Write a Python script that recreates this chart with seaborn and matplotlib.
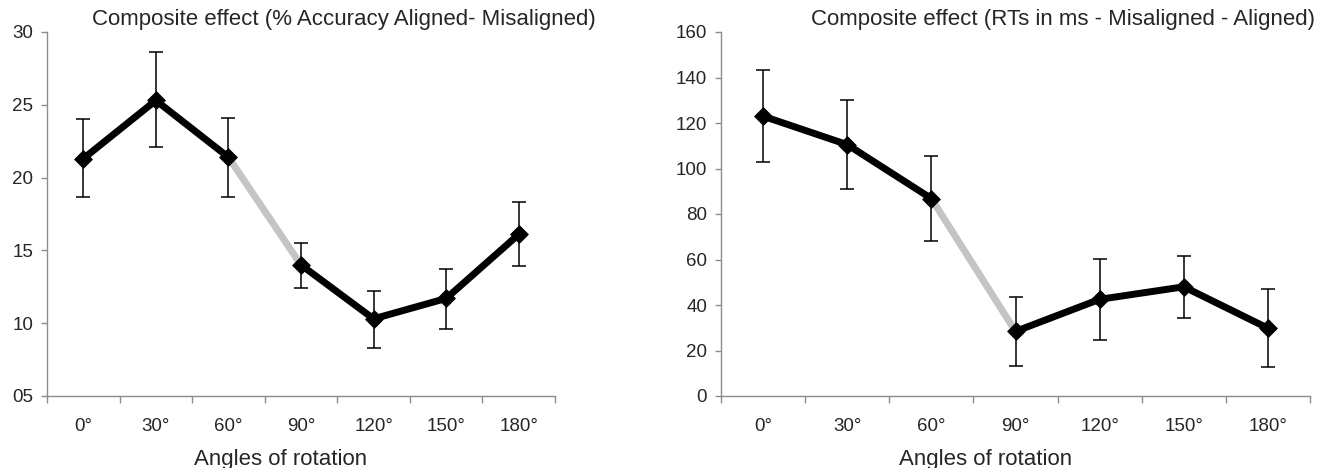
import numpy as np
import matplotlib
matplotlib.use("Agg")
import matplotlib.pyplot as plt
import seaborn as sns

# Data
angles = ["0°", "30°", "60°", "90°", "120°", "150°", "180°"]

acc_mean = [21.3, 25.3, 21.4, 14.0, 10.3, 11.7, 16.1]
acc_low = [18.7, 22.1, 18.7, 12.4, 8.3, 9.6, 13.9]
acc_high = [24.0, 28.6, 24.1, 15.5, 12.2, 13.7, 18.3]

rt_mean = [123.0, 110.5, 86.8, 28.4, 42.5, 48.0, 29.8]
rt_low = [102.7, 91.2, 68.1, 13.4, 24.8, 34.2, 12.8]
rt_high = [143.4, 130.1, 105.7, 43.7, 60.2, 61.5, 47.2]

acc_ticks = [5, 10, 15, 20, 25, 30]
acc_ticklabels = ["05", "10", "15", "20", "25", "30"]
rt_ticks = [0, 20, 40, 60, 80, 100, 120, 140, 160]

sns.set_style("white")
plt.rcParams["font.family"] = ["Liberation Sans", "DejaVu Sans"]

fig = plt.figure(figsize=(13.27, 4.68), dpi=100)
W, H = 1327, 468
ax1 = fig.add_axes([47 / W, 1 - 396 / H, (555 - 47) / W, (396 - 32) / H])
ax2 = fig.add_axes([721 / W, 1 - 396 / H, (1310 - 721) / W, (396 - 32) / H])

spine_col = "#8c8c8c"


def draw_panel(ax, mean, low, high, title, title_x, xlabel_x):
    x = np.arange(len(angles))
    mean = np.array(mean)
    low = np.array(low)
    high = np.array(high)

    ax.errorbar(x, mean, yerr=[mean - low, high - mean], fmt="none",
                ecolor="black", elinewidth=1.1, capsize=5, capthick=1.1, zorder=2)
    sns.lineplot(x=x[:3], y=mean[:3], color="black", lw=5, ax=ax, zorder=3)
    sns.lineplot(x=x[2:4], y=mean[2:4], color="#c4c4c4", lw=5, ax=ax, zorder=3)
    sns.lineplot(x=x[3:], y=mean[3:], color="black", lw=5, ax=ax, zorder=3)
    sns.scatterplot(x=x, y=mean, marker="D", s=80, color="black",
                    edgecolor="black", ax=ax, zorder=4)

    ax.set_xlim(-0.5, len(angles) - 0.5)
    # tick marks between categories, labels at category centres
    ax.set_xticks(np.arange(len(angles) + 1) - 0.5)
    ax.set_xticklabels([])
    ax.set_xticks(x, minor=True)
    ax.set_xticklabels(angles, minor=True)
    ax.tick_params(axis="x", which="major", direction="out", length=5,
                   width=1, color=spine_col, bottom=True)
    ax.tick_params(axis="x", which="minor", length=0, pad=16, labelsize=13.5)
    ax.tick_params(axis="y", direction="out", length=4, width=1,
                   color=spine_col, left=True, pad=6, labelsize=13.5)

    for s in ["top", "right"]:
        ax.spines[s].set_visible(False)
    for s in ["left", "bottom"]:
        ax.spines[s].set_color(spine_col)
        ax.spines[s].set_linewidth(1)

    ax.set_title(title, fontsize=16, x=title_x, pad=5)
    ax.set_xlabel("Angles of rotation", fontsize=16, labelpad=6)
    ax.xaxis.set_label_coords(xlabel_x, -0.145)
    ax.set_ylabel("")


draw_panel(ax1, acc_mean, acc_low, acc_high,
           "Composite effect (% Accuracy Aligned- Misaligned)", 0.585, 0.46)
ax1.set_ylim(5, 30)
ax1.set_yticks(acc_ticks)
ax1.set_yticklabels(acc_ticklabels)

draw_panel(ax2, rt_mean, rt_low, rt_high,
           "Composite effect (RTs in ms - Misaligned - Aligned)", 0.58, 0.45)
ax2.set_ylim(0, 160)
ax2.set_yticks(rt_ticks)

fig.savefig("out.png", dpi=100)
